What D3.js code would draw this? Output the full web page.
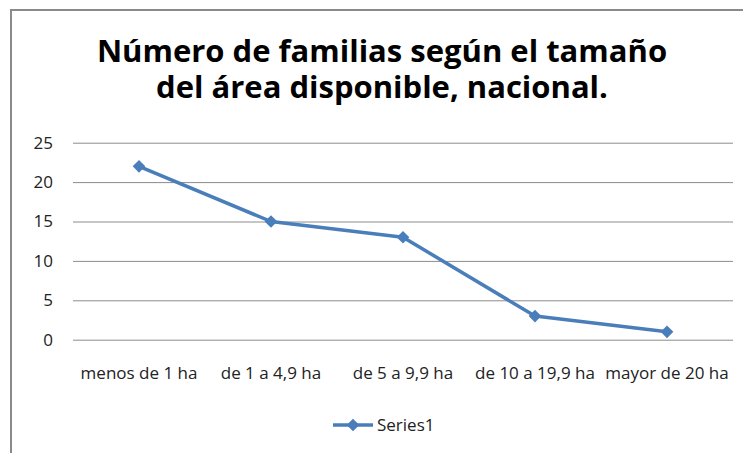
<!DOCTYPE html>
<html lang="es">
  <head>
    <meta charset="utf-8"/>
    <title>Número de familias según el tamaño del área disponible</title>
    <script src="https://cdn.jsdelivr.net/npm/d3@7"></script>
    <style>
      body { margin: 0; background: #fff; }
      text { font-family: "Open Sans", sans-serif; fill: #000; }
      .tick text { font-size: 17px; fill: #222; }
      .grid line { stroke: #8c8c8c; stroke-width: 1; }
    </style>
  </head>
  <body>
    <div id="chart"></div>
    <script>

      // chart data
      var categories = ["menos de 1 ha", "de 1 a 4,9 ha", "de 5 a 9,9 ha", "de 10 a 19,9 ha", "mayor de 20 ha"];
      var values = [22, 15, 13, 3, 1];
      var yTicks = [0, 5, 10, 15, 20, 25];
      var titleLines = ["Número de familias según el tamaño", "del área disponible, nacional."];
      var seriesName = "Series1";

      var w = 743;
      var h = 453;
      var lineColour = "#4a7ebb";

      // plot area
      var plot = { left: 73, right: 733, top: 142.7, bottom: 339.7 };

      var svg = d3.select("#chart")
        .append("svg")
        .attr("width", w)
        .attr("height", h)
      ;

      // chart frame (only top and left edges show in the picture)
      svg.append("path")
        .attr("d", "M11," + h + "V10H" + w)
        .attr("fill", "none")
        .attr("stroke", "#8a8a8a")
        .attr("stroke-width", 2)
      ;

      // title, one text per line
      svg.selectAll(".title")
        .data(titleLines)
        .enter()
        .append("text")
        .attr("class", "title")
        .attr("text-anchor", "middle")
        .attr("x", 382)
        .attr("y", function(d, i) { return 62 + i * 36; })
        .style("font-size", "31px")
        .style("font-weight", "bold")
        .text(function(d) { return d; })
      ;

      var x = d3.scaleBand()
        .domain(categories)
        .range([plot.left, plot.right])
      ;

      var y = d3.scaleLinear()
        .domain([0, 25])
        .range([plot.bottom, plot.top])
      ;

      // horizontal gridlines + y labels
      var yAxis = svg.append("g")
        .attr("class", "grid")
        .attr("transform", "translate(" + plot.left + ",0)")
        .call(d3.axisLeft(y)
          .tickValues(yTicks)
          .tickSize(-(plot.right - plot.left))
          .tickPadding(20)
        )
      ;
      yAxis.select(".domain").remove();

      // x labels
      var xAxis = svg.append("g")
        .attr("transform", "translate(0," + plot.bottom + ")")
        .call(d3.axisBottom(x).tickSize(0).tickPadding(27))
      ;
      xAxis.select(".domain").remove();

      // line
      var line = d3.line()
        .x(function(d, i) { return x(categories[i]) + x.bandwidth() / 2; })
        .y(function(d) { return y(d); })
      ;

      svg.append("path")
        .datum(values)
        .attr("d", line)
        .attr("fill", "none")
        .attr("stroke", lineColour)
        .attr("stroke-width", 3.5)
        .attr("stroke-linejoin", "round")
      ;

      var diamond = d3.symbol().type(d3.symbolSquare).size(80);

      svg.selectAll(".marker")
        .data(values)
        .enter()
        .append("path")
        .attr("class", "marker")
        .attr("d", diamond)
        .attr("fill", lineColour)
        .attr("transform", function(d, i) {
          return "translate(" + (x(categories[i]) + x.bandwidth() / 2) + "," + y(d) + ")rotate(45)";
        })
      ;

      // legend
      var legend = svg.append("g").attr("transform", "translate(333,425)");
      legend.append("line")
        .attr("x1", 0).attr("x2", 40)
        .attr("stroke", lineColour)
        .attr("stroke-width", 3.5)
      ;
      legend.append("path")
        .attr("d", diamond)
        .attr("fill", lineColour)
        .attr("transform", "translate(20,0)rotate(45)")
      ;
      legend.append("text")
        .attr("x", 44)
        .attr("dy", "0.35em")
        .style("font-size", "17px")
        .style("fill", "#222")
        .text(seriesName)
      ;
    </script>
  </body>
</html>
